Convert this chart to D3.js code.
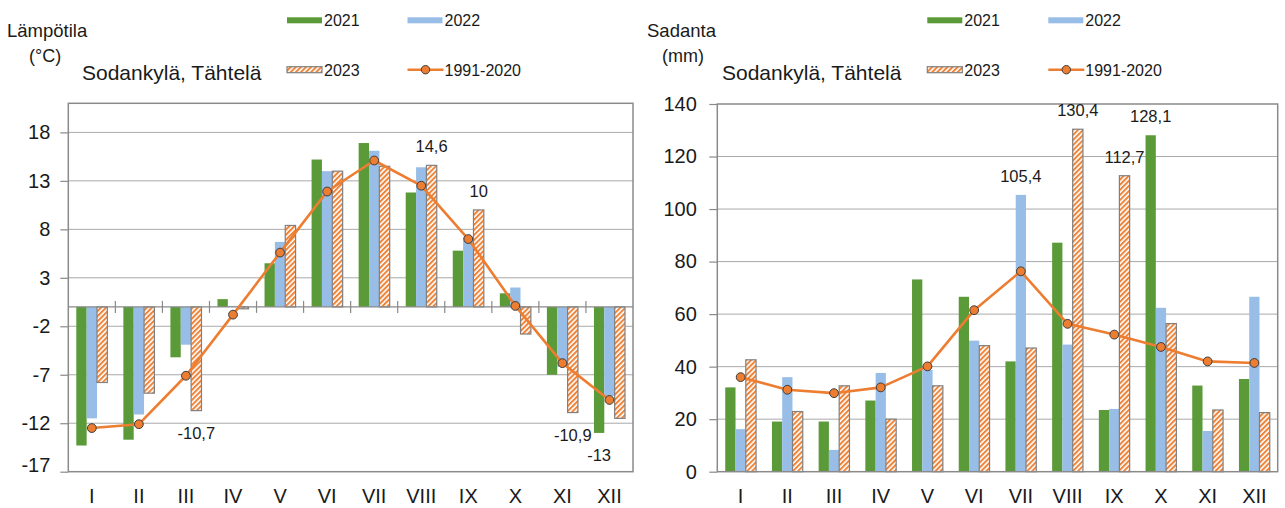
<!DOCTYPE html>
<html>
<head>
<meta charset="utf-8">
<script src="https://cdn.jsdelivr.net/npm/d3@7"></script>
<style>
  body { margin: 0; background: #fff; }
  svg { display: block; }
  text { font-family: "Liberation Sans", Arial, sans-serif; fill: #1a1a1a; }
</style>
</head>
<body>
<svg id="chart" width="1285" height="508"></svg>
<script>
// ---- Data: Sodankylä, Tähtelä monthly temperature and precipitation ----
const months = ["I", "II", "III", "IV", "V", "VI", "VII", "VIII", "IX", "X", "XI", "XII"];
const yearSeries = ["2021", "2022", "2023"];
const normalSeries = "1991-2020";

// Temperature (°C)
const temp2021 = [-14.3, -13.7, -5.2, 0.8, 4.5, 15.2, 16.9, 11.8, 5.8, 1.4, -7.0, -13.0];
const temp2022 = [-11.5, -11.1, -3.9, 0.1, 6.7, 14.0, 16.1, 14.4, 7.2, 2.0, -6.2, -9.2];
const temp2023 = [-7.8, -8.9, -10.7, -0.2, 8.4, 14.0, 14.5, 14.6, 10.0, -2.8, -10.9, -11.5];
const tempNormal = [-12.5, -12.1, -7.1, -0.8, 5.6, 11.9, 15.1, 12.5, 7.0, 0.1, -5.8, -9.6];
const tempTicks = [-17, -12, -7, -2, 3, 8, 13, 18];
// values printed next to their bars: [series, month]
const tempAnnotated = [["2023", "III"], ["2023", "VIII"], ["2023", "IX"], ["2023", "XI"], ["2021", "XII"]];

// Precipitation (mm)
const prec2021 = [32.1, 19.1, 19.1, 27.1, 73.2, 66.6, 42.0, 87.2, 23.5, 128.1, 32.8, 35.3];
const prec2022 = [16.2, 36.0, 8.3, 37.6, 38.8, 49.9, 105.4, 48.4, 23.9, 62.4, 15.5, 66.6];
const prec2023 = [42.6, 22.9, 32.7, 20.0, 32.7, 48.0, 47.1, 130.4, 112.7, 56.4, 23.5, 22.5];
const precNormal = [36.0, 31.2, 29.9, 32.1, 40.1, 61.5, 76.3, 56.3, 52.2, 47.5, 42.0, 41.4];
const precTicks = [0, 20, 40, 60, 80, 100, 120, 140];
const precAnnotated = [["2022", "VII"], ["2023", "VIII"], ["2023", "IX"], ["2021", "X"]];

// ---- Styling ----
const COLORS = { "2021": "#5b9a38", "2022": "#98bde6", line: "#ed7d31" };
const GRID = "#a9a9a9";
const FRAME = "#8a8a8a";

const fiLocale = d3.formatLocale({ decimal: ",", thousands: " ", grouping: [3], currency: ["", " €"], minus: "-" });
const fmtValue = fiLocale.format("~f");

const svg = d3.select("#chart");

// diagonal orange hatching for the 2023 bars
const defs = svg.append("defs");
const pat = defs.append("pattern")
  .attr("id", "hatch")
  .attr("patternUnits", "userSpaceOnUse")
  .attr("width", 3.6).attr("height", 3.6)
  .attr("patternTransform", "rotate(45)");
pat.append("rect").attr("width", 3.6).attr("height", 3.6).attr("fill", "#fff");
pat.append("rect").attr("width", 2.0).attr("height", 3.6).attr("fill", "#ee8439");

function seriesFill(name) {
  return name === "2023" ? "url(#hatch)" : COLORS[name];
}

function drawPanel(cfg) {
  const g = svg.append("g");
  const x0 = d3.scaleBand().domain(months).range([cfg.left, cfg.right]);
  const bw = x0.bandwidth();
  const x1 = d3.scaleBand().domain(yearSeries).range([bw * 0.17, bw * 0.83]);
  const y = d3.scaleLinear().domain(cfg.domain).range([cfg.bottom, cfg.top]);
  const cx = m => x0(m) + bw / 2;

  // horizontal gridlines
  g.append("g").selectAll("line")
    .data(cfg.ticks.filter(t => t > cfg.domain[0] && t < cfg.domain[1]))
    .join("line")
    .attr("x1", cfg.left).attr("x2", cfg.right)
    .attr("y1", d => y(d)).attr("y2", d => y(d))
    .attr("stroke", GRID).attr("stroke-width", 1);

  // y axis with outward ticks
  const yAxis = g.append("g")
    .attr("transform", `translate(${cfg.left},0)`)
    .call(d3.axisLeft(y).tickValues(cfg.ticks).tickSize(8).tickPadding(cfg.tickPad).tickFormat(d => String(d)));
  yAxis.select(".domain").remove();
  yAxis.selectAll(".tick line").attr("stroke", FRAME).attr("stroke-width", 1.2);
  yAxis.selectAll(".tick text")
    .style("font-size", "20px").style("font-family", "'Liberation Sans', Arial, sans-serif").attr("fill", "#1a1a1a");
  if (cfg.lowLabelShift) {
    yAxis.selectAll(".tick text").filter(d => d === cfg.domain[0]).attr("dy", `${0.32 - cfg.lowLabelShift / 20}em`);
  }

  // bars
  const seriesData = yearSeries.map(s => ({ name: s, values: cfg.years[s] }));
  const groups = g.append("g").selectAll("g")
    .data(seriesData).join("g");
  groups.selectAll("rect")
    .data(s => s.values.map((v, i) => ({ series: s.name, month: months[i], value: v })))
    .join("rect")
    .attr("x", d => x0(d.month) + x1(d.series))
    .attr("width", x1.bandwidth())
    .attr("y", d => Math.min(y(d.value), y(0)))
    .attr("height", d => Math.abs(y(d.value) - y(0)))
    .attr("fill", d => seriesFill(d.series))
    .attr("stroke", d => d.series === "2023" ? "#808080" : "none")
    .attr("stroke-width", 1.2);

  // zero line with category separators (temperature panel)
  if (cfg.zeroAxis) {
    g.append("line")
      .attr("x1", cfg.left).attr("x2", cfg.right)
      .attr("y1", y(0)).attr("y2", y(0))
      .attr("stroke", FRAME).attr("stroke-width", 1.4);
    g.append("g").selectAll("line")
      .data(months.slice(1))
      .join("line")
      .attr("x1", d => x0(d)).attr("x2", d => x0(d))
      .attr("y1", y(0) - 6).attr("y2", y(0) + 6)
      .attr("stroke", FRAME).attr("stroke-width", 1.2);
  }

  // plot frame
  g.append("rect")
    .attr("x", cfg.left).attr("y", cfg.top)
    .attr("width", cfg.right - cfg.left).attr("height", cfg.bottom - cfg.top)
    .attr("fill", "none").attr("stroke", FRAME).attr("stroke-width", 1.5);

  // month labels
  const xAxis = g.append("g")
    .attr("transform", `translate(0,${cfg.bottom})`)
    .call(d3.axisBottom(x0).tickSize(0).tickPadding(17));
  xAxis.select(".domain").remove();
  xAxis.selectAll(".tick text")
    .style("font-size", "20px").style("font-family", "'Liberation Sans', Arial, sans-serif").attr("fill", "#1a1a1a");

  // 1991-2020 reference line
  const line = d3.line().x((d, i) => cx(months[i])).y(d => y(d));
  g.append("path")
    .datum(cfg.normal)
    .attr("d", line)
    .attr("fill", "none").attr("stroke", COLORS.line).attr("stroke-width", 2.6)
    .attr("stroke-linejoin", "round");
  g.append("g").selectAll("circle")
    .data(cfg.normal)
    .join("circle")
    .attr("cx", (d, i) => cx(months[i])).attr("cy", d => y(d))
    .attr("r", 4.4)
    .attr("fill", COLORS.line).attr("stroke", "#3d3d3d").attr("stroke-width", 1);

  // value labels
  g.append("g").selectAll("text")
    .data(cfg.annotated.map(([s, m]) => ({ series: s, month: m, value: cfg.years[s][months.indexOf(m)] })))
    .join("text")
    .attr("x", d => x0(d.month) + x1(d.series) + x1.bandwidth() / 2)
    .attr("y", d => d.value >= 0 ? y(d.value) - 13 : y(d.value) + 28)
    .attr("text-anchor", "middle")
    .style("font-size", "16.5px")
    .text(d => fmtValue(d.value));

  // quantity label, title
  g.append("text").attr("x", cfg.qx).attr("y", 37).style("font-size", "18.5px").text(cfg.quantity);
  g.append("text").attr("x", cfg.ux).attr("y", 62).style("font-size", "18px").text(cfg.unit);
  g.append("text").attr("x", cfg.titleX).attr("y", 80).style("font-size", "21px").text("Sodankylä, Tähtelä");

  // legend
  const leg = g.append("g");
  const items = [
    { name: "2021", x: cfg.legX[0], y: 17.3 },
    { name: "2022", x: cfg.legX[1], y: 17.3 },
    { name: "2023", x: cfg.legX[0], y: 66.7 },
    { name: normalSeries, x: cfg.legX[1], y: 66.7 }
  ];
  items.forEach(it => {
    if (it.name === normalSeries) {
      leg.append("line").attr("x1", it.x).attr("x2", it.x + 36)
        .attr("y1", it.y + 3).attr("y2", it.y + 3)
        .attr("stroke", COLORS.line).attr("stroke-width", 2.6);
      leg.append("circle").attr("cx", it.x + 18).attr("cy", it.y + 3).attr("r", 4.2)
        .attr("fill", COLORS.line).attr("stroke", "#3d3d3d").attr("stroke-width", 1);
    } else {
      leg.append("rect").attr("x", it.x).attr("y", it.y).attr("width", 35).attr("height", 6)
        .attr("fill", seriesFill(it.name))
        .attr("stroke", it.name === "2023" ? "#808080" : "none").attr("stroke-width", 1.2);
    }
    leg.append("text").attr("x", it.x + 37).attr("y", it.y + 8.8)
      .style("font-size", "16px").text(it.name);
  });
}

drawPanel({
  left: 68.3, right: 633, top: 103.3, bottom: 471.7,
  domain: [-17, 21], ticks: tempTicks, tickPad: 10, lowLabelShift: 7,
  years: { "2021": temp2021, "2022": temp2022, "2023": temp2023 },
  normal: tempNormal, annotated: tempAnnotated, zeroAxis: true,
  quantity: "Lämpötila", unit: "(°C)", qx: 7, ux: 29, titleX: 82,
  legX: [287, 407.5]
});

drawPanel({
  left: 717.3, right: 1277.7, top: 104, bottom: 471.7,
  domain: [0, 140], ticks: precTicks, tickPad: 12.5,
  years: { "2021": prec2021, "2022": prec2022, "2023": prec2023 },
  normal: precNormal, annotated: precAnnotated, zeroAxis: false,
  quantity: "Sadanta", unit: "(mm)", qx: 647, ux: 662, titleX: 722,
  legX: [927.3, 1048.3]
});
</script>
</body>
</html>
